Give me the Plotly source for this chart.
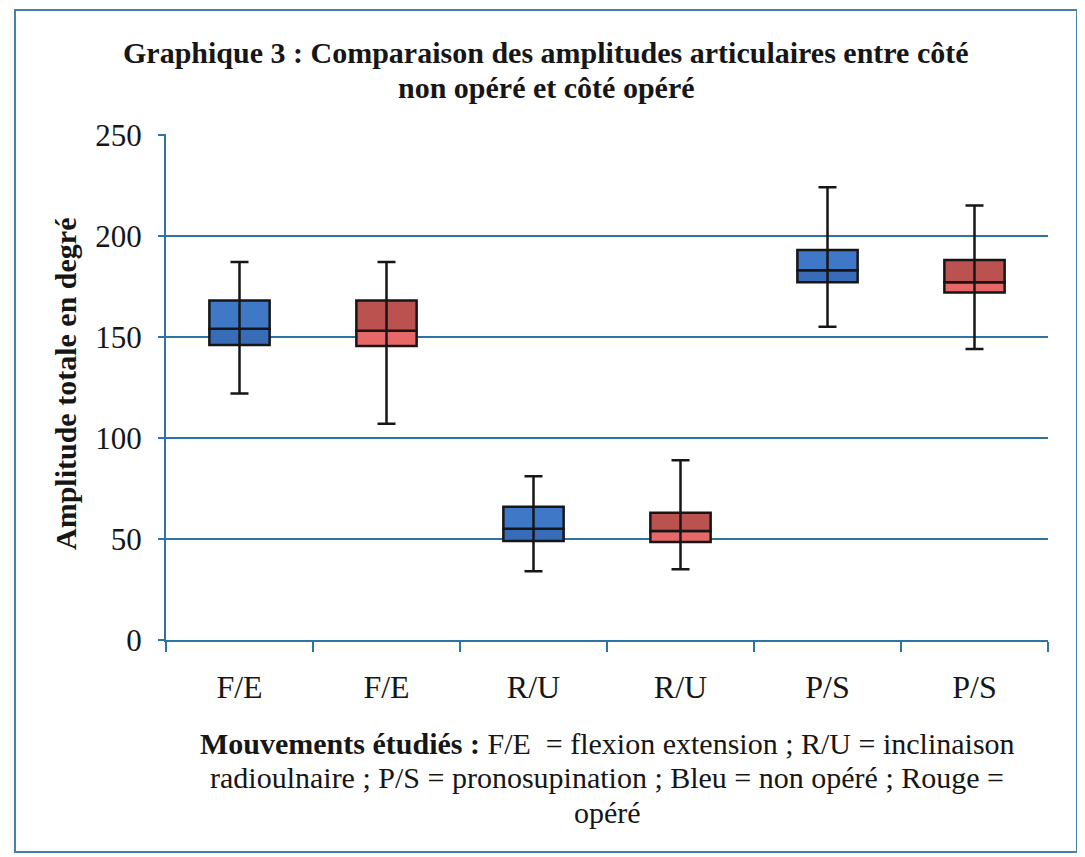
import plotly.graph_objects as go

# ---- data ----
labels = ["F/E", "F/E", "R/U", "R/U", "P/S", "P/S"]
side = ["non opéré", "opéré", "non opéré", "opéré", "non opéré", "opéré"]
whisker_low = [122, 107, 34, 35, 155, 144]
q1 = [146, 145.5, 49, 48.5, 177, 172]
median = [154, 153, 55, 54, 183, 177]
q3 = [168, 168, 66, 63, 193, 188]
whisker_high = [187, 187, 81, 89, 224, 215]

title_lines = ["Graphique 3 : Comparaison des amplitudes articulaires entre côté",
               "non opéré et côté opéré"]
caption_lines = ["<b>Mouvements étudiés :</b> F/E  = flexion extension ; R/U = inclinaison",
                 "radioulnaire ; P/S = pronosupination ; Bleu = non opéré ; Rouge =",
                 "opéré"]
y_title = "Amplitude totale en degré"

upper_col = {"non opéré": "#3f78c6", "opéré": "#bb524f"}
lower_col = {"non opéré": "#386cb8", "opéré": "#e8686a"}

grid_col = "#2f74a0"
ink = "#161616"
font_fam = "Liberation Serif, Times New Roman, serif"

OFF = 8  # page body margin
W, H = 1085 - OFF, 857 - OFF
L, T = 166 - OFF, 134 - OFF
R = W - (1048 - OFF)
B = H - (640 - OFF)
pw, ph = W - L - R, H - T - B


def px_x(p):
    return (p - OFF - L) / pw


def px_y(p):
    return (H - B - (p - OFF)) / ph


fig = go.Figure()
pos = list(range(len(labels)))

# lower part of box (q1 -> median)
fig.add_trace(go.Bar(
    x=pos, base=q1, y=[m - a for m, a in zip(median, q1)],
    width=0.41,
    marker=dict(color=[lower_col[s] for s in side], line=dict(color=ink, width=2.5)),
    showlegend=False, hoverinfo="skip"))
# upper part of box (median -> q3)
fig.add_trace(go.Bar(
    x=pos, base=median, y=[b - m for b, m in zip(q3, median)],
    width=0.41,
    marker=dict(color=[upper_col[s] for s in side], line=dict(color=ink, width=2.5)),
    showlegend=False, hoverinfo="skip"))
# whiskers through the box
fig.add_trace(go.Scatter(
    x=pos, y=median, mode="markers",
    marker=dict(size=1, color=ink),
    error_y=dict(type="data", symmetric=False,
                 array=[h - m for h, m in zip(whisker_high, median)],
                 arrayminus=[m - lo for m, lo in zip(median, whisker_low)],
                 color=ink, thickness=2.5, width=9),
    showlegend=False, hoverinfo="skip"))

fig.update_layout(
    barmode="overlay",
    width=W, height=H,
    margin=dict(l=L, r=R, t=T, b=B),
    paper_bgcolor="white", plot_bgcolor="white",
    font=dict(family=font_fam, color=ink),
    showlegend=False,
)

fig.update_xaxes(
    range=[-0.5, 5.5], tickmode="array", tickvals=pos, ticktext=labels,
    ticks="", showgrid=False, zeroline=False,
    showline=True, linecolor=grid_col, linewidth=2,
    tickfont=dict(size=32, family=font_fam, color=ink),
    ticklabelstandoff=18,
    minor=dict(tickmode="linear", tick0=-0.5, dtick=1, ticks="outside",
               ticklen=10, tickwidth=2, tickcolor=grid_col, showgrid=False),
)
fig.update_yaxes(
    range=[0, 250.4], tickmode="linear", tick0=0, dtick=50,
    showgrid=True, gridcolor=grid_col, gridwidth=2,
    zeroline=False,
    showline=True, linecolor=grid_col, linewidth=2,
    ticks="outside", ticklen=6, tickwidth=2, tickcolor=grid_col,
    tickfont=dict(size=31, family=font_fam, color=ink),
    ticklabelstandoff=10,
)

fig.add_annotation(
    text="<b>" + y_title + "</b>", textangle=-90,
    xref="paper", yref="paper", x=px_x(65), y=px_y(384),
    xanchor="center", yanchor="middle", showarrow=False,
    font=dict(size=30, family=font_fam, color=ink))

for line, yc in zip(title_lines, [52, 87]):
    fig.add_annotation(
        text="<b>" + line + "</b>",
        xref="paper", yref="paper", x=px_x(546), y=px_y(yc),
        xanchor="center", yanchor="middle", showarrow=False,
        font=dict(size=30, family=font_fam, color=ink))

for line, yc in zip(caption_lines, [743, 777, 812]):
    fig.add_annotation(
        text=line,
        xref="paper", yref="paper", x=px_x(607), y=px_y(yc),
        xanchor="center", yanchor="middle", showarrow=False,
        font=dict(size=30, family=font_fam, color=ink))

fig.add_shape(
    type="rect", xref="paper", yref="paper",
    x0=px_x(15), x1=px_x(1077), y0=px_y(852), y1=px_y(10),
    line=dict(color="#4a7fa6", width=2), layer="below")

fig.write_html("out.html")
